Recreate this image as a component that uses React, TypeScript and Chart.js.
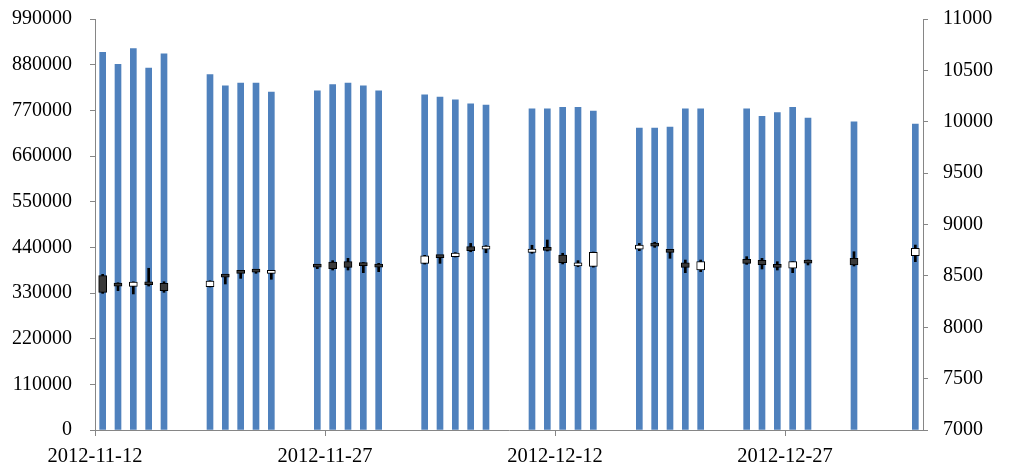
import React, { useEffect, useRef } from 'react';
import { Chart, registerables } from 'chart.js';

Chart.register(...registerables);

const dates = [
  '2012-11-12', '2012-11-13', '2012-11-14', '2012-11-15', '2012-11-16',
  '2012-11-19', '2012-11-20', '2012-11-21', '2012-11-22', '2012-11-23',
  '2012-11-26', '2012-11-27', '2012-11-28', '2012-11-29', '2012-11-30',
  '2012-12-03', '2012-12-04', '2012-12-05', '2012-12-06', '2012-12-07',
  '2012-12-10', '2012-12-11', '2012-12-12', '2012-12-13', '2012-12-14',
  '2012-12-17', '2012-12-18', '2012-12-19', '2012-12-20', '2012-12-21',
  '2012-12-24', '2012-12-25', '2012-12-26', '2012-12-27', '2012-12-28',
  '2012-12-31', '2013-01-04',
];

const volume = [
  910000, 881000, 918700, 871600, 905900,
  856200, 829100, 835600, 835600, 814000,
  817100, 832200, 835600, 829100, 817100,
  807500, 801900, 795500, 785900, 782700,
  773800, 773800, 777000, 777000, 768300,
  727500, 727500, 729900, 773800, 773800,
  773800, 755400, 764300, 777000, 751500,
  742600, 737100,
];

const openP = [
  8502, 8408, 8398, 8422, 8428,
  8395, 8496, 8532, 8545, 8525,
  8593, 8635, 8638, 8622, 8593,
  8622, 8685, 8687, 8784, 8761,
  8729, 8756, 8703, 8596, 8593,
  8759, 8798, 8736, 8628, 8557,
  8661, 8651, 8612, 8574, 8632,
  8671, 8696,
];
const highP = [
  8515, 8433, 8442, 8574, 8443,
  8452, 8508, 8541, 8555, 8549,
  8605, 8648, 8671, 8630, 8622,
  8700, 8693, 8726, 8816, 8794,
  8798, 8849, 8720, 8648, 8732,
  8816, 8827, 8752, 8654, 8654,
  8687, 8671, 8638, 8638, 8654,
  8735, 8800,
];
const lowP = [
  8330, 8356, 8324, 8401, 8340,
  8392, 8421, 8476, 8525, 8467,
  8570, 8557, 8557, 8531, 8541,
  8615, 8622, 8684, 8735, 8725,
  8720, 8742, 8616, 8589, 8585,
  8745, 8778, 8671, 8531, 8541,
  8612, 8567, 8557, 8531, 8606,
  8596, 8638,
];
const closeP = [
  8340, 8400, 8440, 8414, 8356,
  8450, 8488, 8524, 8537, 8547,
  8585, 8570, 8583, 8599, 8585,
  8696, 8677, 8723, 8745, 8791,
  8761, 8748, 8628, 8628, 8729,
  8800, 8790, 8728, 8583, 8638,
  8622, 8609, 8583, 8638, 8624,
  8606, 8768,
];

const xTickLabels = ['2012-11-12', '2012-11-27', '2012-12-12', '2012-12-27'];

const volMin = 0;
const volMax = 990000;
const volStep = 110000;
const priceMin = 7000;
const priceMax = 11000;
const priceStep = 500;

const DAY = 86400000;
const startMs = Date.parse(dates[0] + 'T00:00:00Z');
const dayIndex = (d: string) => Math.round((Date.parse(d + 'T00:00:00Z') - startMs) / DAY);
const xs = dates.map((d) => dayIndex(d) + 0.5);
const xMax = dayIndex(dates[dates.length - 1]) + 1;

const FAMILY = "'Liberation Serif', 'Times New Roman', serif";
const YFONT = { family: FAMILY, size: 20 };
const XFONT = { family: FAMILY, size: 20.5 };
const AXIS = '#868686';
const TEXT = '#000000';

const fixPad = (s: any) => {
  s.paddingTop = 0;
  s.paddingBottom = 0;
  s.paddingLeft = 0;
  s.paddingRight = 0;
};

export default function App() {
  const ref = useRef<HTMLCanvasElement | null>(null);

  useEffect(() => {
    document.body.style.margin = '0';
    const canvas = ref.current;
    if (!canvas) return;

    const volData = xs.map((x, i) => ({ x, y: volume[i] }));
    const wickData = xs.map((x, i) => ({ x, y: [lowP[i], highP[i]] }));
    const boxData = xs.map((x, i) => ({ x, y: [openP[i], closeP[i]] }));
    const boxColors = openP.map((o, i) => (closeP[i] > o ? '#ffffff' : '#3a3a3a'));

    const chart = new Chart(canvas, {
      type: 'bar',
      data: {
        datasets: [
          {
            label: 'box',
            data: boxData as any,
            yAxisID: 'y1',
            backgroundColor: boxColors,
            borderColor: '#000000',
            borderWidth: 1,
            borderSkipped: false,
            barThickness: 8,
            minBarLength: 3,
            grouped: false,
            order: 1,
          } as any,
          {
            label: 'wick',
            data: wickData as any,
            yAxisID: 'y1',
            backgroundColor: '#000000',
            borderWidth: 0,
            barThickness: 2,
            grouped: false,
            order: 2,
          } as any,
          {
            label: 'volume',
            data: volData as any,
            yAxisID: 'y',
            backgroundColor: '#4F81BD',
            borderWidth: 0,
            barThickness: 6,
            grouped: false,
            order: 3,
          } as any,
        ],
      },
      options: {
        animation: false,
        responsive: false,
        maintainAspectRatio: false,
        layout: { padding: { top: 19, left: 0, right: 0, bottom: 0 } },
        plugins: { legend: { display: false }, tooltip: { enabled: false } },
        scales: {
          x: {
            type: 'linear',
            offset: false,
            min: 0,
            max: xMax,
            afterBuildTicks: (s: any) => {
              s.ticks = xTickLabels.map((l) => ({ value: dayIndex(l) }));
            },
            afterFit: (s: any) => {
              s.height = 36;
              fixPad(s);
            },
            ticks: {
              autoSkip: false,
              maxRotation: 0,
              minRotation: 0,
              padding: 8,
              font: XFONT,
              color: TEXT,
              callback: (v: any) => {
                const idx = xTickLabels.findIndex((l) => dayIndex(l) === v);
                return idx >= 0 ? xTickLabels[idx] : '';
              },
            },
            grid: { offset: false, drawOnChartArea: false, drawTicks: true, tickLength: 6, color: AXIS },
            border: { display: true, color: AXIS, width: 1 },
          },
          y: {
            type: 'linear',
            position: 'left',
            min: volMin,
            max: volMax,
            afterFit: (s: any) => {
              s.width = 95;
              fixPad(s);
            },
            ticks: {
              stepSize: volStep,
              padding: 18,
              font: YFONT,
              color: TEXT,
              callback: (v: any) => String(v),
            },
            grid: { drawOnChartArea: false, drawTicks: true, tickLength: 5, color: AXIS },
            border: { display: true, color: AXIS, width: 1 },
          },
          y1: {
            type: 'linear',
            position: 'right',
            min: priceMin,
            max: priceMax,
            afterFit: (s: any) => {
              s.width = 88;
              fixPad(s);
            },
            ticks: {
              stepSize: priceStep,
              padding: 15,
              font: YFONT,
              color: TEXT,
              callback: (v: any) => String(v),
            },
            grid: { drawOnChartArea: false, drawTicks: true, tickLength: 5, color: AXIS },
            border: { display: true, color: AXIS, width: 1 },
          },
        },
      } as any,
    });

    return () => chart.destroy();
  }, []);

  return (
    <div style={{ width: 1011, height: 466, background: '#ffffff' }}>
      <canvas ref={ref} width={1011} height={466} style={{ display: 'block', width: 1011, height: 466 }} />
    </div>
  );
}
